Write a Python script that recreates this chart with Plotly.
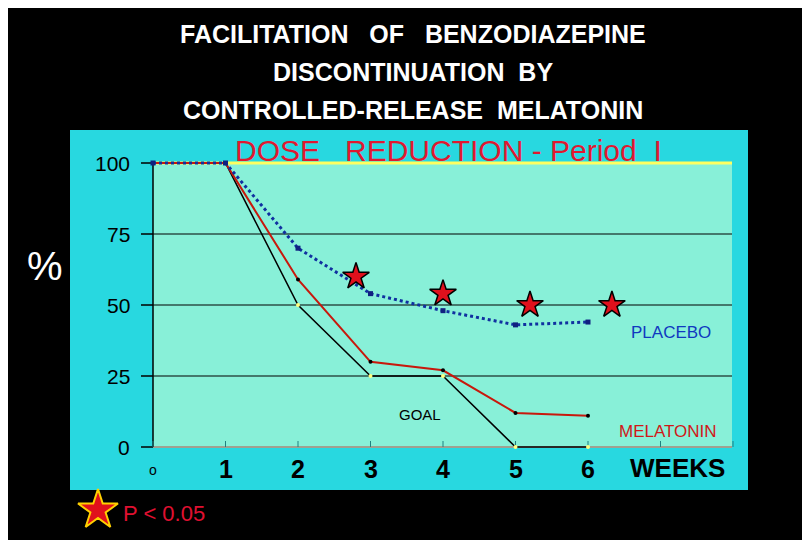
import plotly.graph_objects as go

weeks = [0, 1, 2, 3, 4, 5, 6]
placebo = [100, 100, 70, 54, 48, 43, 44]
melatonin = [100, 100, 59, 30, 27, 12, 11]
goal = [100, 100, 50, 25, 25, 0, 0]
star_x = [2.8, 4.0, 5.2, 6.33]
star_y = [60, 54, 50, 50]
y_ticks = [0, 25, 50, 75, 100]
x_ticks = [1, 2, 3, 4, 5, 6]

# pixel mapping helpers (x = 145 + 72.5*week, y = 439 - 2.84*pct)
def dx(p):
    return (p - 145) / 72.5
def dy(p):
    return (439 - p) / 2.84

XMAX = dx(724)
fig = go.Figure()
fig.add_trace(go.Scatter(x=weeks, y=goal, mode="lines+markers", line=dict(color="black", width=1.5),
                         marker=dict(color="#ffff80", size=4)))
fig.add_trace(go.Scatter(x=weeks, y=melatonin, mode="lines+markers", line=dict(color="#c8180c", width=2),
                         marker=dict(color="black", size=4)))
fig.add_trace(go.Scatter(x=weeks, y=placebo, mode="lines+markers", line=dict(color="#1030a0", width=3, dash="dot"),
                         marker=dict(color="#102080", size=5, symbol="square")))
fig.add_trace(go.Scatter(x=star_x, y=star_y, mode="markers",
                         marker=dict(symbol="star", size=20, color="#e0101c", line=dict(color="black", width=1.5))))
fig.add_trace(go.Scatter(x=[dx(90)], y=[dy(502)], mode="markers",
                         marker=dict(symbol="star", size=30, color="#e0101c", line=dict(color="#ffd000", width=2))))

shapes = [
    dict(type="rect", x0=dx(62), x1=dx(740), y0=dy(482), y1=dy(122), fillcolor="#28d8e0", line=dict(width=0), layer="below"),
    dict(type="rect", x0=0, x1=XMAX, y0=0, y1=100, fillcolor="#88f0d8", line=dict(width=0), layer="below"),
    dict(type="line", x0=0, x1=XMAX, y0=100, y1=100, line=dict(color="#ffff60", width=3), layer="below"),
    dict(type="line", x0=0, x1=XMAX, y0=0, y1=0, line=dict(color="#a0a090", width=2), layer="below"),
    dict(type="line", x0=0, x1=0, y0=0, y1=100, line=dict(color="black", width=1.5), layer="below"),
]
for v in [25, 50, 75]:
    shapes.append(dict(type="line", x0=0, x1=XMAX, y0=v, y1=v, line=dict(color="black", width=1), layer="below"))
for v in y_ticks:
    shapes.append(dict(type="line", x0=dx(133), x1=0, y0=v, y1=v, line=dict(color="black", width=1.5), layer="below"))
for v in weeks + [7, 8]:
    shapes.append(dict(type="line", x0=v, x1=v, y0=0, y1=dy(433), line=dict(color="#208080", width=1), layer="below"))

fig.update_layout(
    width=810, height=540, showlegend=False,
    paper_bgcolor="black", plot_bgcolor="black",
    margin=dict(l=0, r=0, t=0, b=0),
    xaxis=dict(range=[dx(0), dx(810)], visible=False, fixedrange=True),
    yaxis=dict(range=[dy(540), dy(0)], visible=False, fixedrange=True),
    shapes=shapes,
)

def note(x, y, text, size, color, anchor="center"):
    fig.add_annotation(x=dx(x), y=dy(y), text=text, showarrow=False, xanchor=anchor, yanchor="middle",
                       font=dict(family="Liberation Sans", size=size, color=color))

for v in y_ticks:
    fig.add_annotation(x=dx(124), y=v, text=str(v), showarrow=False, xanchor="right",
                       yanchor="middle", font=dict(family="Liberation Sans", size=21, color="black"))
for v in x_ticks:
    fig.add_annotation(x=v, y=dy(461), text="<b>" + str(v) + "</b>", showarrow=False, yanchor="middle",
                       font=dict(family="Liberation Sans", size=25, color="black"))
note(145, 462, "o", 14, "black")
note(620, 460, "<b>WEEKS</b>", 26, "black", "left")
note(621, 324, "PLACEBO", 17, "#1038c0", "left")
note(609, 423, "MELATONIN", 17, "#d01818", "left")
note(412, 406, "GOAL", 15, "black")
note(440, 142, "DOSE   REDUCTION - Period  I", 30, "#e01830")
note(37, 258, "%", 40, "white")
note(113, 505, "P < 0.05", 22, "#e01030", "left")
title_lines = ["FACILITATION   OF   BENZODIAZEPINE", "DISCONTINUATION  BY", "CONTROLLED-RELEASE  MELATONIN"]
for i, t in enumerate(title_lines):
    note(405, 26 + 38 * i, "<b>" + t + "</b>", 25, "white")

fig.write_html("out.html")
